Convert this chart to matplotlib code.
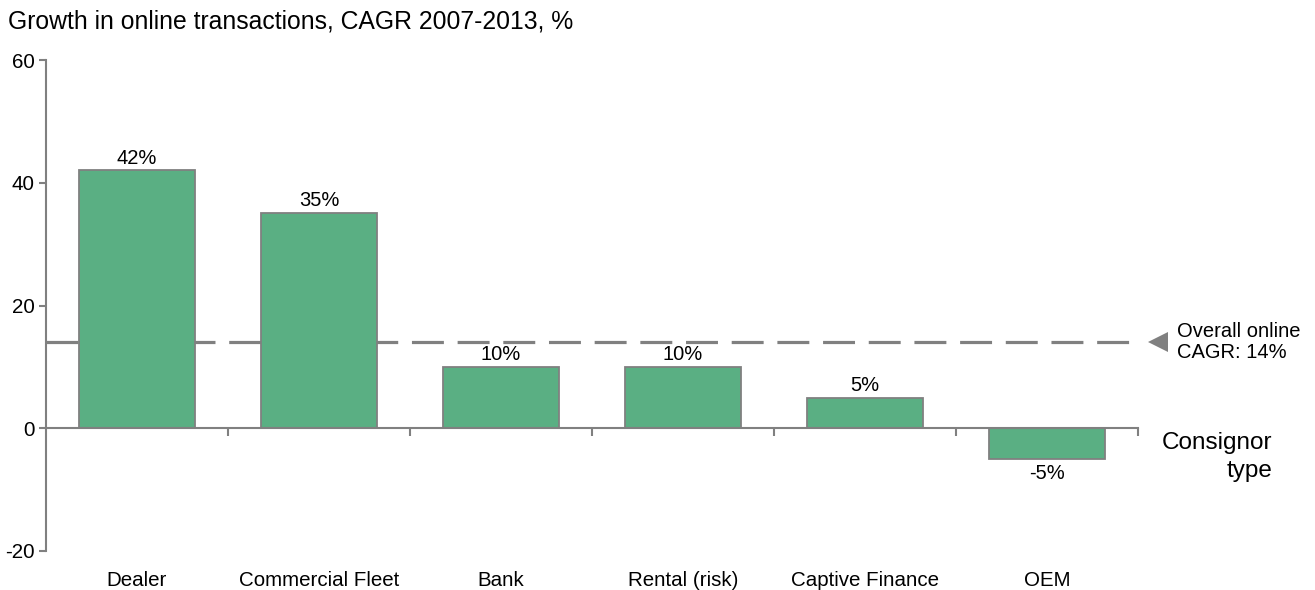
import matplotlib.pyplot as plt
import numpy as np

plt.rcParams["font.family"] = ["Liberation Sans", "DejaVu Sans"]

# Online transaction growth by consignor type
categories = ["Dealer", "Commercial Fleet", "Bank", "Rental (risk)", "Captive Finance", "OEM"]
cagr = [42, 35, 10, 10, 5, -5]
overall_cagr = 14
y_ticks = [-20, 0, 20, 40, 60]

bar_color = "#5aaf83"
grey = "#808080"

fig = plt.figure(figsize=(13.15, 5.9), dpi=100)
ax = fig.add_axes([46 / 1315, 39 / 590, 1092 / 1315, 491 / 590])

x = np.arange(len(categories))
ax.bar(x, cagr, width=0.64, color=bar_color, edgecolor=grey, linewidth=1.3, zorder=2)

ax.set_xlim(-0.5, len(categories) - 0.5)
ax.set_ylim(y_ticks[0], y_ticks[-1])

# value labels above / below bars
for xi, v in zip(x, cagr):
    if v >= 0:
        ax.annotate(f"{v}%", (xi, v), xytext=(0, 5), textcoords="offset points",
                    ha="center", va="baseline", fontsize=14.5, zorder=3)
    else:
        ax.annotate(f"{v}%", (xi, v), xytext=(0, -4), textcoords="offset points",
                    ha="center", va="top", fontsize=14.5)

# category names under the plot area
for xi, name in zip(x, categories):
    ax.annotate(name, (xi, y_ticks[0]), xytext=(0, -25), textcoords="offset points",
                ha="center", va="baseline", fontsize=14.8, annotation_clip=False)

# spines: y axis on the left, category axis at zero
for side in ["top", "right"]:
    ax.spines[side].set_visible(False)
ax.spines["bottom"].set_position(("data", 0))
ax.spines["left"].set_color(grey)
ax.spines["bottom"].set_color(grey)
ax.spines["left"].set_linewidth(1.5)
ax.spines["bottom"].set_linewidth(1.5)

ax.set_yticks(y_ticks)
ax.set_yticklabels([str(t) for t in y_ticks])
ax.tick_params(axis="y", length=5, width=1.5, color=grey, labelsize=14.8, pad=3)
ax.set_xticks(np.arange(0.5, len(categories), 1.0))
ax.set_xticklabels([])
ax.tick_params(axis="x", length=6, width=1.5, color=grey, direction="out")

# overall CAGR reference line
ax.axhline(overall_cagr, xmin=0, xmax=1.002, color=grey, linewidth=2.3,
           dashes=(10, 4.3), zorder=1, clip_on=False)
ax.plot([len(categories) - 0.5 + 0.11], [overall_cagr], marker="<", markersize=14,
        color=grey, markeredgewidth=0, clip_on=False)
ax.annotate("Overall online\nCAGR: 14%", (len(categories) - 0.5, overall_cagr),
            xytext=(28, 0), textcoords="offset points", ha="left", va="center",
            fontsize=14.5, linespacing=1.15, annotation_clip=False)

ax.annotate("Consignor\ntype", (len(categories) - 0.5, 0), xytext=(97, -3),
            textcoords="offset points", ha="right", va="top", fontsize=17.5,
            linespacing=1.35, annotation_clip=False)

fig.text(8 / 1315, 1 - 22 / 590, "Growth in online transactions, CAGR 2007-2013, %",
         ha="left", va="center", fontsize=17.8)

fig.savefig("out.png", dpi=100)
